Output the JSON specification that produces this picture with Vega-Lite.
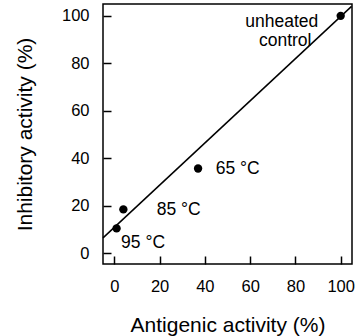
{
  "$schema": "https://vega.github.io/schema/vega-lite/v6.json",
  "width": 249,
  "height": 260,
  "autosize": {"type": "none"},
  "padding": {"left": 103, "top": 4, "right": 4, "bottom": 72},
  "config": {
    "font": "Liberation Sans",
    "view": {"stroke": "black", "strokeWidth": 1.5},
    "axis": {
      "domain": false,
      "grid": false,
      "tickColor": "black",
      "tickWidth": 1.5,
      "labelFont": "Liberation Sans",
      "labelFontSize": 16.5,
      "labelColor": "black",
      "titleFont": "Liberation Sans",
      "titleFontSize": 21,
      "titleFontWeight": "normal",
      "titleColor": "black"
    }
  },
  "layer": [
    {
      "data": {"values": [
        {"x": -5, "y": 6.5},
        {"x": 104.8, "y": 104.0}
      ]},
      "mark": {"type": "line", "color": "black", "strokeWidth": 1.5},
      "encoding": {
        "x": {"field": "x", "type": "quantitative",
          "scale": {"domain": [-5, 105], "nice": false, "zero": false},
          "axis": {"title": "Antigenic activity (%)",
            "values": [0, 10, 20, 30, 40, 50, 60, 70, 80, 90, 100],
            "labelExpr": "datum.value % 20 === 0 ? datum.label : ''",
            "tickSize": {"condition": {"test": "datum.value % 20 === 0", "value": -8}, "value": -5},
            "labelPadding": 22,
            "titlePadding": 20}},
        "y": {"field": "y", "type": "quantitative",
          "scale": {"domain": [-4.5, 105], "nice": false, "zero": false},
          "axis": {"title": "Inhibitory activity (%)",
            "values": [0, 10, 20, 30, 40, 50, 60, 70, 80, 90, 100],
            "labelExpr": "datum.value % 20 === 0 ? datum.label : ''",
            "tickSize": {"condition": {"test": "datum.value % 20 === 0", "value": -8}, "value": -5},
            "labelPadding": 22,
            "titlePadding": 26}}
      }
    },
    {
      "data": {"values": [
        {"x": 100, "y": 100},
        {"x": 37, "y": 35.7},
        {"x": 4, "y": 18.5},
        {"x": 1, "y": 10.5}
      ]},
      "mark": {"type": "circle", "color": "black", "opacity": 1, "size": 70},
      "encoding": {
        "x": {"field": "x", "type": "quantitative"},
        "y": {"field": "y", "type": "quantitative"}
      }
    },
    {
      "data": {"values": [
        {"x": 74, "y": 97.5, "label": "unheated"},
        {"x": 75.5, "y": 89.5, "label": "control"}
      ]},
      "mark": {"type": "text", "fontSize": 17.5, "color": "black", "align": "center", "baseline": "middle"},
      "encoding": {
        "x": {"field": "x", "type": "quantitative"},
        "y": {"field": "y", "type": "quantitative"},
        "text": {"field": "label"}
      }
    },
    {
      "data": {"values": [
        {"x": 44.8, "y": 35.4, "label": "65 °C"},
        {"x": 18.7, "y": 18.2, "label": "85 °C"},
        {"x": 3, "y": 4.2, "label": "95 °C"}
      ]},
      "mark": {"type": "text", "fontSize": 17.5, "color": "black", "align": "left", "baseline": "middle"},
      "encoding": {
        "x": {"field": "x", "type": "quantitative"},
        "y": {"field": "y", "type": "quantitative"},
        "text": {"field": "label"}
      }
    }
  ]
}
